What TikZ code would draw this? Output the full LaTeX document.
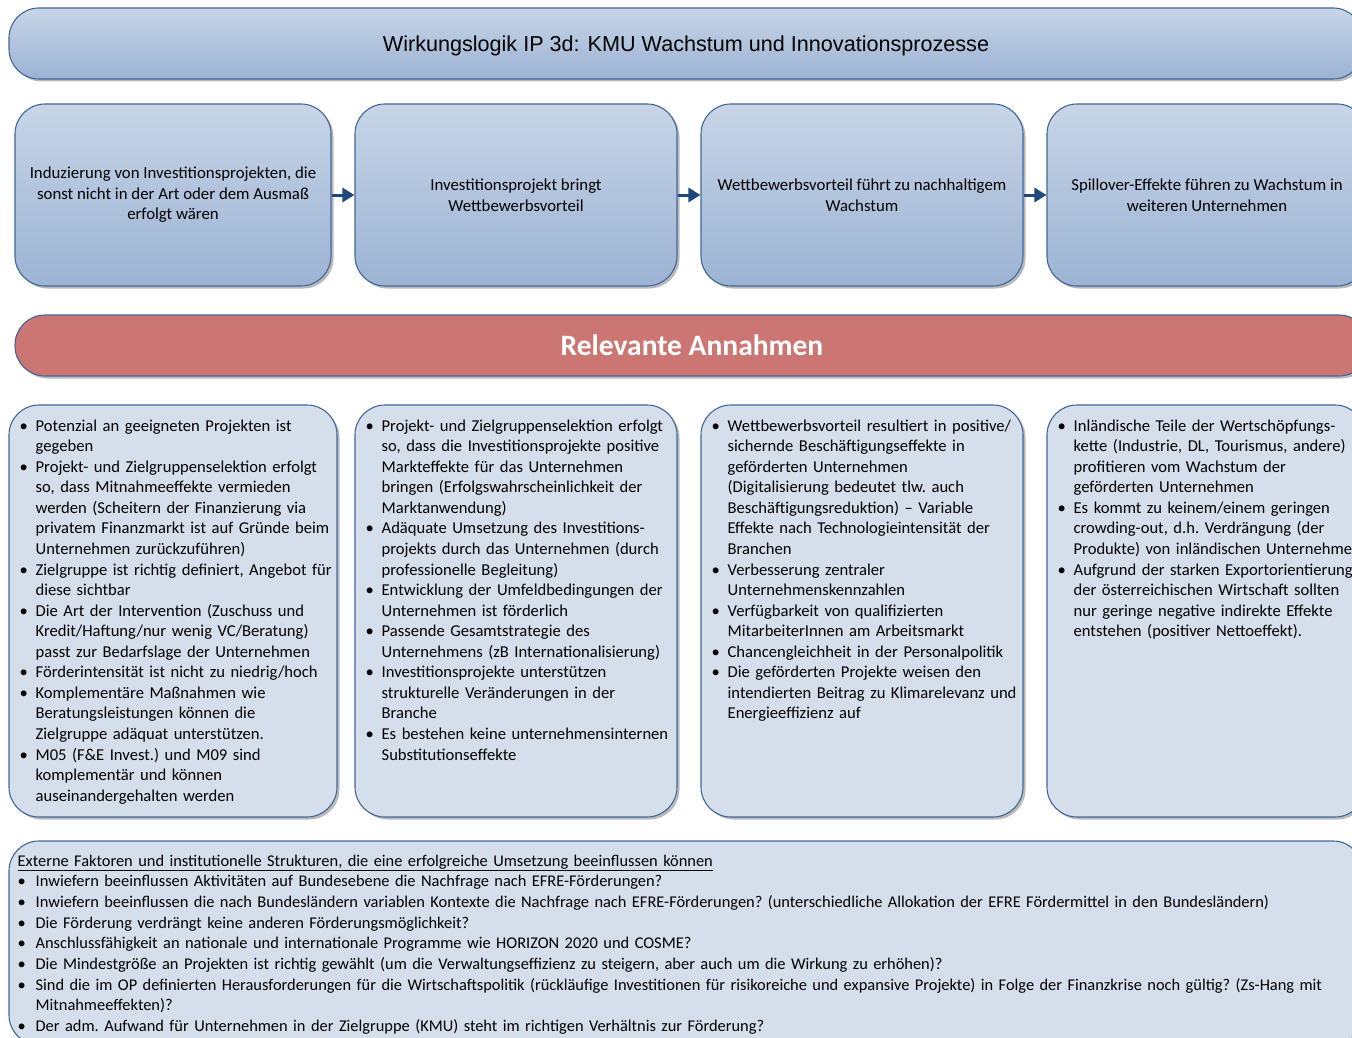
\documentclass[tikz,border=0pt]{standalone}
\usepackage{fontspec}
\setmainfont{Carlito}
\newfontfamily\titlefont{Liberation Sans}
\usetikzlibrary{positioning,shadows,arrows.meta}
\definecolor{boxline}{HTML}{41669A}
\definecolor{boxtop}{HTML}{C7D5E7}
\definecolor{boxbottom}{HTML}{9CB3D3}
\definecolor{notefill}{HTML}{D5DFEB}
\definecolor{annred}{HTML}{CC7673}
\definecolor{arrowblue}{HTML}{1F497D}
\newcommand{\bpoint}[1][16pt]{\par\hangindent=#1\hangafter=1\noindent\makebox[#1][l]{\textbullet}\ignorespaces}

\begin{document}
\begin{tikzpicture}[x=1pt, y=-1pt,
	shadowed/.style={drop shadow={shadow xshift=2.5pt, shadow yshift=-2.5pt, opacity=0.45, fill=black!60}},
	headbox/.style={draw=boxline, line width=1.1pt, rounded corners=30pt, top color=boxtop, bottom color=boxbottom, shadowed, inner sep=0pt},
	stepbox/.style={headbox, minimum height=182pt, align=center, font=\fontsize{16.8}{20.5}\selectfont},
	notebox/.style={draw=boxline, line width=1.1pt, rounded corners=30pt, fill=notefill, shadowed, inner sep=0pt},
	notetext/.style={inner sep=0pt, text width=345pt, font=\fontsize{16.6}{20.55}\selectfont\frenchspacing},
	flow/.style={-{Triangle[length=12pt,width=14pt]}, arrowblue, line width=3pt},
]
	\useasboundingbox (0,0) rectangle (1352,1038);

	\node[headbox, minimum width=1354pt, minimum height=71pt, text depth=0pt, font=\titlefont\fontsize{21.6}{26}\selectfont] (title) at (686,43.5) {Wirkungslogik IP 3d: KMU Wachstum und Innovationsprozesse};

	\node[stepbox, minimum width=316pt] (w1) at (173,195) {Induzierung von Investitionsprojekten, die\\sonst nicht in der Art oder dem Ausmaß\\erfolgt wären};
	\node[stepbox, minimum width=322pt] (w2) at (516,195) {Investitionsprojekt bringt\\Wettbewerbsvorteil};
	\node[stepbox, minimum width=322pt] (w3) at (862,195) {Wettbewerbsvorteil führt zu nachhaltigem\\Wachstum};
	\node[stepbox, minimum width=320pt] (w4) at (1207,195) {Spillover-Effekte führen zu Wachstum in\\weiteren Unternehmen};
	\draw[flow] (w1) -- (w2);
	\draw[flow] (w2) -- (w3);
	\draw[flow] (w3) -- (w4);

	\node[draw=boxline, line width=1.1pt, rounded corners=30pt, fill=annred, shadowed, minimum width=1354pt, minimum height=61pt, text=white, font=\bfseries\fontsize{29.5}{34}\selectfont] (ann) at (692,345.5) {Relevante Annahmen};

	\node[notebox, minimum width=328pt, minimum height=412pt] (a1) at (173,611) {};
	\node[notebox, minimum width=322pt, minimum height=412pt] (a2) at (516,611) {};
	\node[notebox, minimum width=322pt, minimum height=412pt] (a3) at (862,611) {};
	\node[notebox, minimum width=318pt, minimum height=412pt] (a4) at (1206,611) {};

	\node[notetext, below right=6pt and 11pt of a1.north west] (t1) {%
		\bpoint Potenzial an geeigneten Projekten ist\newline gegeben
		\bpoint Projekt- und Zielgruppenselektion erfolgt\newline so, dass Mitnahmeeffekte vermieden\newline werden (Scheitern der Finanzierung via\newline privatem Finanzmarkt ist auf Gründe beim\newline Unternehmen zurückzuführen)
		\bpoint Zielgruppe ist richtig definiert, Angebot für\newline diese sichtbar
		\bpoint Die Art der Intervention (Zuschuss und\newline Kredit/Haftung/nur wenig VC/Beratung)\newline passt zur Bedarfslage der Unternehmen
		\bpoint Förderintensität ist nicht zu niedrig/hoch
		\bpoint Komplementäre Maßnahmen wie\newline Beratungsleistungen können die\newline Zielgruppe adäquat unterstützen.
		\bpoint M05 (F\&E Invest.) und M09 sind\newline komplementär und können\newline auseinandergehalten werden\par};
	\node[notetext, below right=6pt and 11pt of a2.north west] (t2) {%
		\bpoint Projekt- und Zielgruppenselektion erfolgt\newline so, dass die Investitionsprojekte positive\newline Markteffekte für das Unternehmen\newline bringen (Erfolgswahrscheinlichkeit der\newline Marktanwendung)
		\bpoint Adäquate Umsetzung des Investitions-\newline projekts durch das Unternehmen (durch\newline professionelle Begleitung)
		\bpoint Entwicklung der Umfeldbedingungen der\newline Unternehmen ist förderlich
		\bpoint Passende Gesamtstrategie des\newline Unternehmens (zB Internationalisierung)
		\bpoint Investitionsprojekte unterstützen\newline strukturelle Veränderungen in der\newline Branche
		\bpoint Es bestehen keine unternehmensinternen\newline Substitutionseffekte\par};
	\node[notetext, below right=6pt and 11pt of a3.north west] (t3) {%
		\bpoint Wettbewerbsvorteil resultiert in positive/\newline sichernde Beschäftigungseffekte in\newline geförderten Unternehmen\newline (Digitalisierung bedeutet tlw. auch\newline Beschäftigungsreduktion) -- Variable\newline Effekte nach Technologieintensität der\newline Branchen
		\bpoint Verbesserung zentraler\newline Unternehmenskennzahlen
		\bpoint Verfügbarkeit von qualifizierten\newline MitarbeiterInnen am Arbeitsmarkt
		\bpoint Chancengleichheit in der Personalpolitik
		\bpoint Die geförderten Projekte weisen den\newline intendierten Beitrag zu Klimarelevanz und\newline Energieeffizienz auf\par};
	\node[notetext, below right=6pt and 11pt of a4.north west] (t4) {%
		\bpoint Inländische Teile der Wertschöpfungs-\newline kette (Industrie, DL, Tourismus, andere)\newline profitieren vom Wachstum der\newline geförderten Unternehmen
		\bpoint Es kommt zu keinem/einem geringen\newline crowding-out, d.h. Verdrängung (der\newline Produkte) von inländischen Unternehmen
		\bpoint Aufgrund der starken Exportorientierung\newline der österreichischen Wirtschaft sollten\newline nur geringe negative indirekte Effekte\newline entstehen (positiver Nettoeffekt).\par};

	\node[notebox, minimum width=1354pt, minimum height=204pt] (ext) at (686,943) {};
	\node[notetext, text width=1340pt, font=\fontsize{16.4}{20.7}\selectfont\frenchspacing, below right=14pt and 9pt of ext.north west] (te) {%
		\underline{Externe Faktoren und institutionelle Strukturen, die eine erfolgreiche Umsetzung beeinflussen können}
		\bpoint[18pt] Inwiefern beeinflussen Aktivitäten auf Bundesebene die Nachfrage nach EFRE-Förderungen?
		\bpoint[18pt] Inwiefern beeinflussen die nach Bundesländern variablen Kontexte die Nachfrage nach EFRE-Förderungen? (unterschiedliche Allokation der EFRE Fördermittel in den Bundesländern)
		\bpoint[18pt] Die Förderung verdrängt keine anderen Förderungsmöglichkeit?
		\bpoint[18pt] Anschlussfähigkeit an nationale und internationale Programme wie HORIZON 2020 und COSME?
		\bpoint[18pt] Die Mindestgröße an Projekten ist richtig gewählt (um die Verwaltungseffizienz zu steigern, aber auch um die Wirkung zu erhöhen)?
		\bpoint[18pt] Sind die im OP definierten Herausforderungen für die Wirtschaftspolitik (rückläufige Investitionen für risikoreiche und expansive Projekte) in Folge der Finanzkrise noch gültig? (Zs-Hang mit\newline Mitnahmeeffekten)?
		\bpoint[18pt] Der adm. Aufwand für Unternehmen in der Zielgruppe (KMU) steht im richtigen Verhältnis zur Förderung?\par};
\end{tikzpicture}
\end{document}
